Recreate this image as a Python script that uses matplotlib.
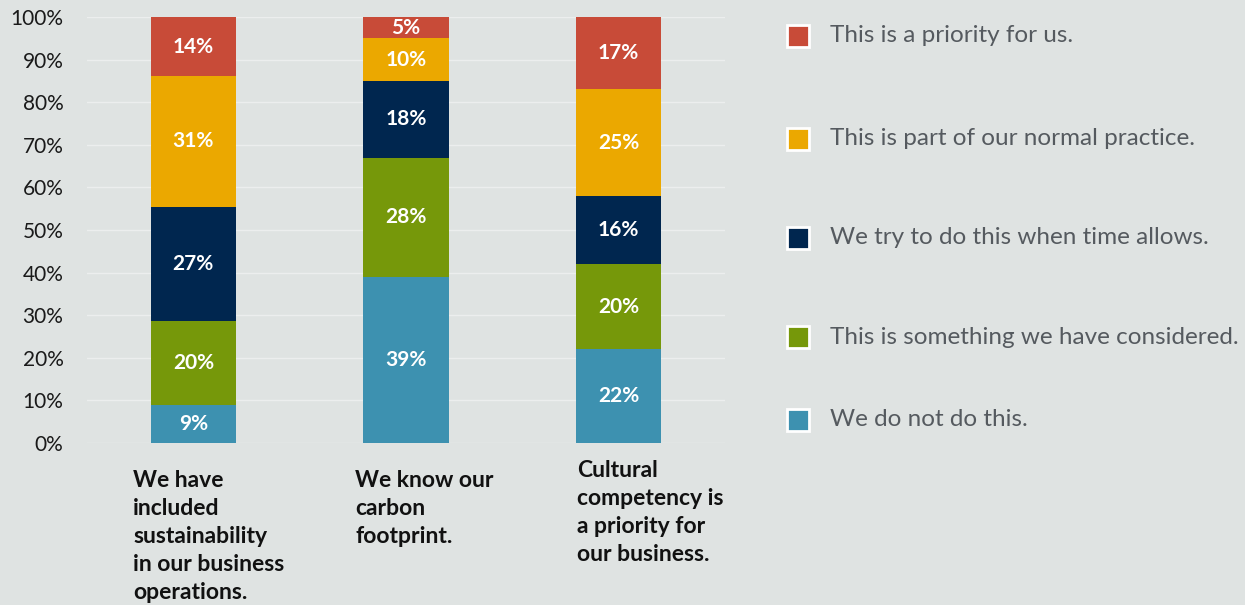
import matplotlib
matplotlib.use("Agg")
import matplotlib.pyplot as plt
from matplotlib.patches import Rectangle
import numpy as np

plt.rcParams['font.family'] = ['Lato', 'DejaVu Sans']

categories = [
    "We have\nincluded\nsustainability\nin our business\noperations.",
    "We know our\ncarbon\nfootprint.",
    "Cultural\ncompetency is\na priority for\nour business.",
]
# bottom to top
series = [
    "We do not do this.",
    "This is something we have considered.",
    "We try to do this when time allows.",
    "This is part of our normal practice.",
    "This is a priority for us.",
]
values = np.array([
    [9, 39, 22],
    [20, 28, 20],
    [27, 18, 16],
    [31, 10, 25],
    [14, 5, 17],
], dtype=float)
colors = ["#3d91b0", "#76980a", "#00264f", "#eba800", "#c84b38"]
bg = "#dfe3e2"

W, H = 1245, 605
fig = plt.figure(figsize=(W / 100, H / 100), dpi=100, facecolor=bg)
ax = fig.add_axes([87 / W, (H - 443) / H, (725 - 87) / W, (443 - 17) / H])
ax.set_facecolor(bg)

# 100% stacked: normalise each column
shares = values / values.sum(axis=0) * 100
x = np.arange(len(categories))
bottom = np.zeros(len(categories))
for i, (name, col) in enumerate(zip(series, colors)):
    ax.bar(x, shares[i], 0.4, bottom=bottom, color=col, zorder=3)
    for xi, b, h, v in zip(x, bottom, shares[i], values[i]):
        ax.text(xi, b + h / 2, f"{v:.0f}%", ha="center", va="center",
                color="white", fontsize=15, fontweight="bold", zorder=4)
    bottom += shares[i]

ax.set_xlim(-0.5, 2.5)
ax.set_ylim(0, 100)
ax.set_yticks(np.arange(0, 101, 10))
ax.set_yticklabels([f"{t}%" for t in range(0, 101, 10)], fontsize=15,
                   color="#1a1a1a")
ax.tick_params(axis="y", length=0, pad=17)
ax.set_xticks([])
ax.grid(axis="y", color="#eceeee", linewidth=1, zorder=0)
for s in ax.spines.values():
    s.set_visible(False)

# category labels under the bars, left aligned (pixel anchors)
label_x = [133, 355, 577]
label_top = [470, 470, 460]
for lab, lx, top in zip(categories, label_x, label_top):
    fig.text(lx / W, 1 - top / H, lab, ha="left", va="top", fontsize=16.5,
             fontweight="bold", color="#111111", linespacing=1.41)

# legend, top entry first
legend_y = [36, 139, 238, 337, 420]
for name, col, yy in zip(series[::-1], colors[::-1], legend_y):
    fig.patches.append(Rectangle(((798 - 11) / W, 1 - (yy + 11) / H),
                                 22 / W, 22 / H, transform=fig.transFigure,
                                 facecolor=col, edgecolor="white",
                                 linewidth=2))
    fig.text(830 / W, 1 - yy / H, name, ha="left", va="center",
             fontsize=17.5, color="#555a5f")

fig.savefig("out.png", dpi=100, facecolor=bg)
